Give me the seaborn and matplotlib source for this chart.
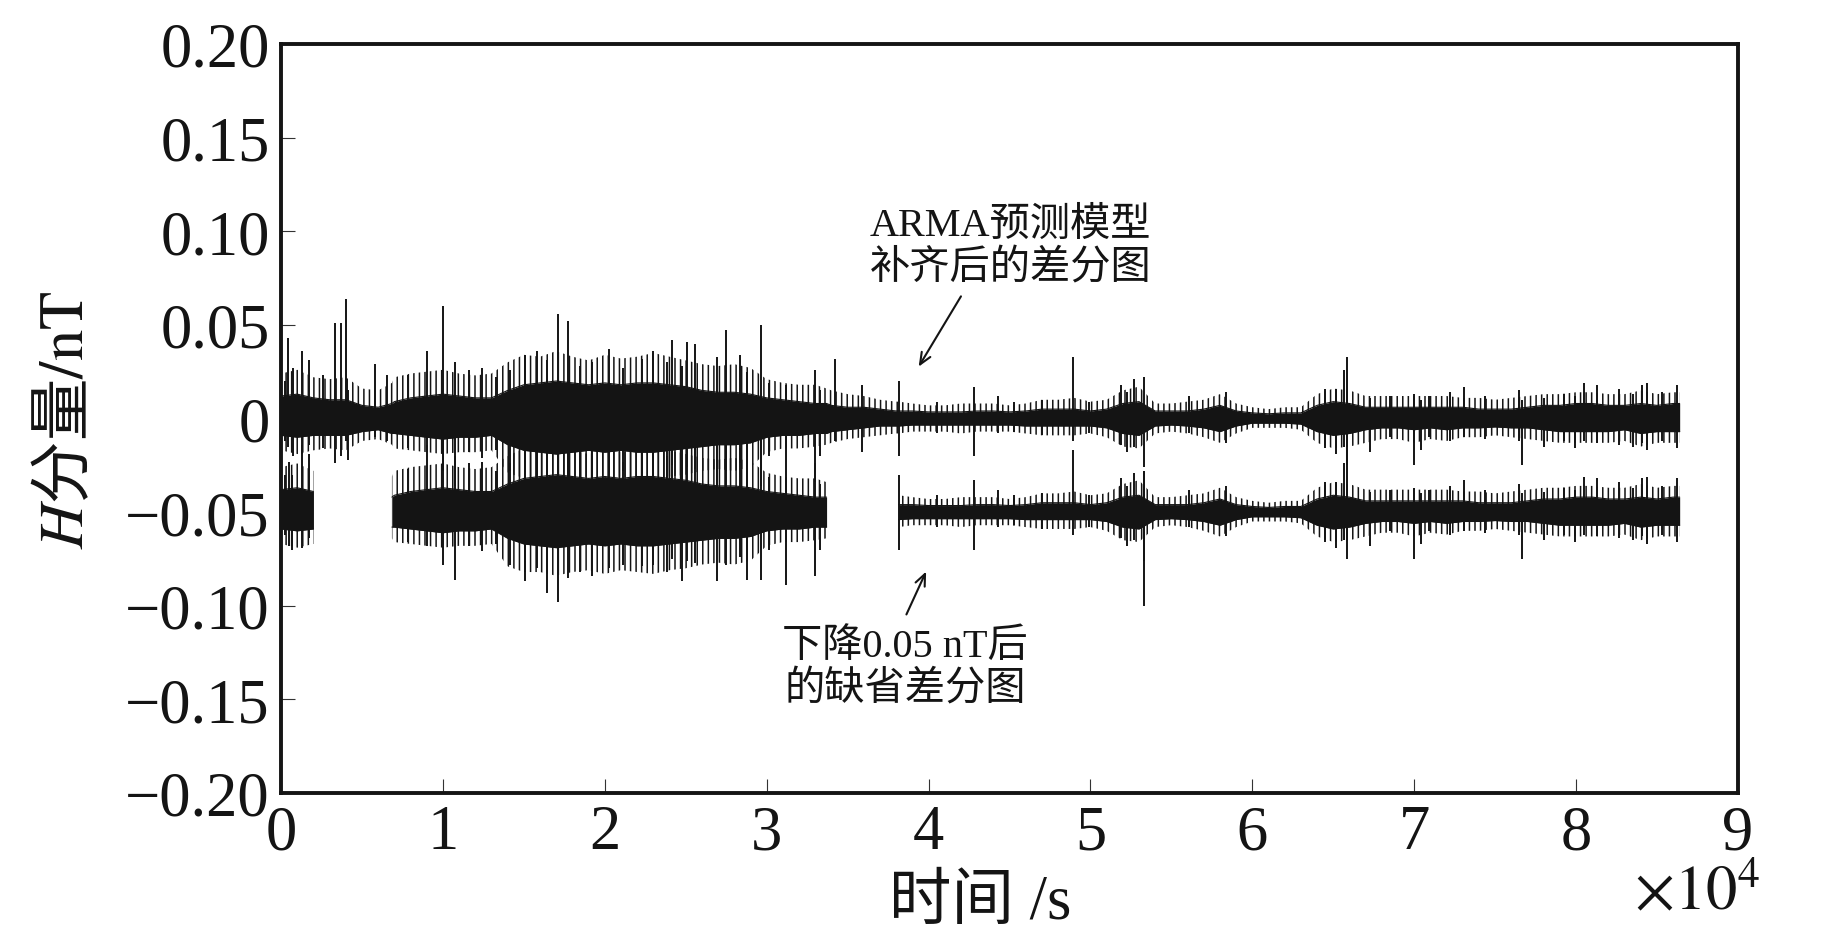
import numpy as np
import pandas as pd
import matplotlib
matplotlib.use('Agg')
import matplotlib.pyplot as plt
import seaborn as sns

# knot times (s) of the dense noise band of the ARMA-filled difference series
T = [0, 1000, 2000, 3000, 4000, 5000, 6000, 6850, 7000, 8000, 9000, 10000,
     11000, 12000, 13000, 14000, 15000, 16000, 17000, 18000, 19000, 20000,
     21000, 22000, 23000, 24000, 25000, 26000, 27000, 28000, 29000, 30000,
     31000, 32000, 33000, 33700, 34000, 35000, 36000, 37000, 38000, 38150,
     39000, 40000, 41000, 42000, 43000, 44000, 45000, 46000, 47000, 48000,
     49000, 50000, 51000, 52000, 53000, 54000, 55000, 56000, 57000, 58000,
     59000, 60000, 61000, 62000, 63000, 64000, 65000, 66000, 67000, 68000,
     69000, 70000, 71000, 72000, 73000, 74000, 75000, 76000, 77000, 78000,
     79000, 80000, 81000, 82000, 83000, 84000, 85000, 86000, 86400]

# upper / lower edge of the solid core of the band (nT)
BAND_UP = [.012, .013, .011, .010, .010, .007, .006, .008, .009, .011, .012, .013,
           .012, .011, .011, .015, .018, .019, .020, .019, .018, .019,
           .018, .019, .019, .018, .017, .015, .014, .014, .013, .011,
           .010, .009, .008, .008, .007, .006, .006, .005, .004, .004,
           .004, .0035, .0035, .0035, .004, .004, .0035, .004, .005, .005,
           .005, .004, .005, .008, .009, .004, .004, .004, .005, .007,
           .004, .003, .0025, .003, .003, .007, .009, .008, .006, .006,
           .006, .006, .006, .006, .006, .005, .005, .005, .006, .007,
           .007, .008, .008, .007, .007, .008, .007, .008, .008]
BAND_LO = [-.009, -.010, -.009, -.009, -.009, -.007, -.006, -.008, -.008, -.009, -.010, -.011,
           -.010, -.010, -.009, -.014, -.017, -.018, -.019, -.018, -.017, -.018,
           -.017, -.018, -.018, -.017, -.016, -.015, -.014, -.014, -.013, -.010,
           -.009, -.009, -.008, -.008, -.007, -.006, -.005, -.004, -.004, -.004,
           -.0035, -.0035, -.0035, -.0035, -.0035, -.0035, -.0035, -.004, -.004, -.004,
           -.004, -.004, -.005, -.008, -.009, -.004, -.0035, -.004, -.005, -.007,
           -.004, -.0025, -.0025, -.0025, -.003, -.007, -.009, -.008, -.006, -.005,
           -.005, -.006, -.005, -.006, -.005, -.005, -.0045, -.005, -.005, -.006,
           -.007, -.007, -.007, -.007, -.006, -.008, -.007, -.007, -.007]

# outer reach of the many thin noise lines around the core (nT)
FRINGE_UP = [.024, .026, .022, .021, .022, .016, .015, .019, .022, .024, .025, .026,
             .024, .023, .024, .030, .034, .033, .036, .033, .031, .034,
             .032, .033, .035, .033, .031, .029, .028, .029, .027, .021,
             .019, .018, .018, .016, .015, .013, .012, .010, .009, .009,
             .008, .007, .007, .008, .008, .008, .007, .008, .010, .010,
             .011, .009, .010, .015, .017, .008, .008, .009, .010, .013,
             .008, .006, .005, .006, .006, .013, .016, .015, .012, .012,
             .012, .012, .012, .012, .011, .011, .010, .011, .012, .013,
             .013, .014, .014, .013, .013, .015, .013, .014, .014]
FRINGE_LO = [-.017, -.019, -.017, -.016, -.017, -.012, -.011, -.014, -.016, -.017, -.018, -.019,
             -.018, -.018, -.017, -.029, -.032, -.032, -.034, -.032, -.031, -.033,
             -.031, -.032, -.033, -.031, -.030, -.028, -.027, -.028, -.026, -.018,
             -.016, -.016, -.015, -.014, -.013, -.011, -.010, -.009, -.008, -.008,
             -.007, -.007, -.007, -.008, -.007, -.007, -.007, -.008, -.009, -.009,
             -.009, -.008, -.010, -.015, -.016, -.008, -.007, -.008, -.010, -.013,
             -.008, -.005, -.005, -.005, -.006, -.013, -.016, -.015, -.013, -.011,
             -.011, -.013, -.011, -.012, -.010, -.010, -.009, -.010, -.011, -.012,
             -.013, -.013, -.013, -.013, -.012, -.015, -.013, -.013, -.013]

# isolated spikes: time (s), top and bottom (nT)
SPIKE_T = [250, 450, 760, 1280, 1750, 2620, 3340, 3690, 4020, 4160, 5810, 6530,
           7870, 9000, 10030, 10750, 11580, 12400, 13300, 14150, 15080, 15840,
           16420, 17080, 17700, 18480, 19200, 20230, 21100, 22290, 22970, 23830,
           24140, 24760, 25070, 25590, 26930, 27500, 28370, 28780, 29640, 30120,
           31210, 32960, 33300, 34240, 35880, 38150, 40500, 42780, 44290, 45300,
           47000, 48930, 49900, 51890, 52260, 52670, 53330, 56070, 58380, 64520,
           65140, 65690, 65860, 67300, 68500, 70000, 70390, 70900, 72240, 73070,
           74400, 76460, 76670, 78000, 79250, 79960, 80480, 81310, 82650, 83500,
           84090, 84400, 85300, 86250]
SPIKE_HI = [.020, .043, .027, .036, .031, .023, .051, .051, .064, .015, .029, .023,
            .023, .036, .060, .030, .026, .027, .022, .026, .034, .036,
            .031, .056, .052, .028, .030, .037, .027, .032, .036, .030,
            .042, .028, .041, .040, .033, .047, .034, .025, .050, .019,
            .018, .026, .015, .032, .018, .020, .009, .017, .012, .009,
            .010, .033, .009, .018, .014, .021, .022, .012, .014, .016,
            .016, .026, .033, .011, .012, .013, .010, .012, .014, .017,
            .012, .015, .010, .011, .013, .012, .019, .018, .016, .013,
            .018, .019, .014, .018]
SPIKE_LO = [-.012, -.015, -.020, -.019, -.014, -.016, -.024, -.020, -.012, -.022, -.010, -.012,
            -.016, -.018, -.028, -.036, -.018, -.021, -.017, -.028, -.037, -.030,
            -.043, -.048, -.035, -.032, -.034, -.030, -.028, -.029, -.028, -.032,
            -.025, -.037, -.026, -.027, -.037, -.028, -.024, -.036, -.036, -.020,
            -.039, -.034, -.020, -.012, -.018, -.020, -.008, -.020, -.008, -.007,
            -.009, -.012, -.008, -.014, -.018, -.015, -.026, -.008, -.013, -.016,
            -.019, -.015, -.025, -.018, -.010, -.025, -.017, -.010, -.012, -.010,
            -.011, -.012, -.025, -.015, -.012, -.016, -.012, -.013, -.014, -.015,
            -.013, -.017, -.012, -.016]

# gapped series (shifted down by 0.05 nT): kept segments, and its own spikes
OFFSET_B = -0.05
SEGMENTS_B = [(0, 2000), (6850, 33700), (38150, 86400)]
B_SKIP_T = [450, 760]
B_EXTRA_T = [500, 700, 53330]
B_EXTRA_HI = [.027, .020, .022]
B_EXTRA_LO = [-.018, -.020, -.050]

X_TICKS = [0, 10000, 20000, 30000, 40000, 50000, 60000, 70000, 80000, 90000]
X_TICK_LABELS = ['0', '1', '2', '3', '4', '5', '6', '7', '8', '9']
Y_TICKS = [-0.20, -0.15, -0.10, -0.05, 0, 0.05, 0.10, 0.15, 0.20]
Y_TICK_LABELS = ['\u22120.20', '\u22120.15', '\u22120.10', '\u22120.05', '0',
                 '0.05', '0.10', '0.15', '0.20']

INK = '#141414'

sns.set_theme(style='white')
plt.rcParams['font.family'] = ['Liberation Serif', 'Noto Sans CJK SC']
plt.rcParams['mathtext.fontset'] = 'stix'
plt.rcParams['hatch.linewidth'] = 1.1

band = pd.DataFrame({'t': T, 'up': BAND_UP, 'lo': BAND_LO,
                     'fup': FRINGE_UP, 'flo': FRINGE_LO})
spikes = pd.DataFrame({'t': SPIKE_T, 'hi': SPIKE_HI, 'lo': SPIKE_LO})


def draw_band(ax, df, sp, offset):
    # thin noise lines (vertical hatch) out to the fringe, solid core inside
    ax.fill_between(df['t'], df['flo'] + offset, df['fup'] + offset,
                    facecolor='none', edgecolor=INK, hatch='|||', lw=0)
    up = df['up'] + offset
    lo = df['lo'] + offset
    ax.fill_between(df['t'], lo, up, color=INK, lw=0)
    sns.lineplot(x=df['t'], y=up, ax=ax, color=INK, lw=0.8)
    sns.lineplot(x=df['t'], y=lo, ax=ax, color=INK, lw=0.8)
    ax.vlines(sp['t'], sp['lo'] + offset, sp['hi'] + offset, color=INK, lw=1.4)


fig = plt.figure(figsize=(18.43, 9.45), dpi=100)
ax = fig.add_axes([0.1525, 0.1598, 0.7905, 0.7926])

# series filled by the ARMA model
draw_band(ax, band, spikes, 0.0)

# series with gaps, shifted down 0.05 nT
for start, end in SEGMENTS_B:
    seg = band[(band['t'] >= start) & (band['t'] <= end)]
    sp = spikes[(spikes['t'] >= start) & (spikes['t'] <= end) & ~spikes['t'].isin(B_SKIP_T)]
    draw_band(ax, seg, sp, OFFSET_B)
ax.vlines(B_EXTRA_T, np.array(B_EXTRA_LO) + OFFSET_B, np.array(B_EXTRA_HI) + OFFSET_B,
          color=INK, lw=1.4)

ax.set_xlim(0, 90000)
ax.set_ylim(-0.2, 0.2)
ax.set_xticks(X_TICKS)
ax.set_xticklabels(X_TICK_LABELS)
ax.set_yticks(Y_TICKS)
ax.set_yticklabels(Y_TICK_LABELS)
ax.tick_params(direction='in', length=10, width=0.8, color='#333333',
               labelsize=45, labelcolor=INK, pad=8,
               top=False, right=False, bottom=True, left=True)
for s in ax.spines.values():
    s.set_visible(True)
    s.set_linewidth(2.8)
    s.set_color(INK)

ax.set_ylabel(r'$H$分量$\mathrm{/nT}$', fontsize=45, family='Noto Sans CJK SC', color=INK)
ax.yaxis.set_label_coords(-0.1265, 0.5)
ax.set_xlabel('时间 /s', fontsize=45, color=INK)
ax.xaxis.set_label_coords(0.480, -0.108)
fig.text(0.955, 0.053, r'$\times10^{4}$', ha='right', va='center', fontsize=45, color=INK)

ax.text(45050, 0.0916, 'ARMA预测模型\n补齐后的差分图', ha='center', va='center',
        fontsize=29, color=INK)
ax.annotate('', xy=(39300, 0.0264), xytext=(42090, 0.0665),
            arrowprops=dict(arrowstyle='->,head_length=0.7,head_width=0.3', lw=1.5, color=INK))
ax.text(38560, -0.1333, '下降0.05 nT后\n的缺省差分图', ha='center', va='center',
        fontsize=29, color=INK)
ax.annotate('', xy=(39920, -0.0804), xytext=(38560, -0.106),
            arrowprops=dict(arrowstyle='->,head_length=0.7,head_width=0.3', lw=1.5, color=INK))

fig.savefig('out.png', dpi=100)
